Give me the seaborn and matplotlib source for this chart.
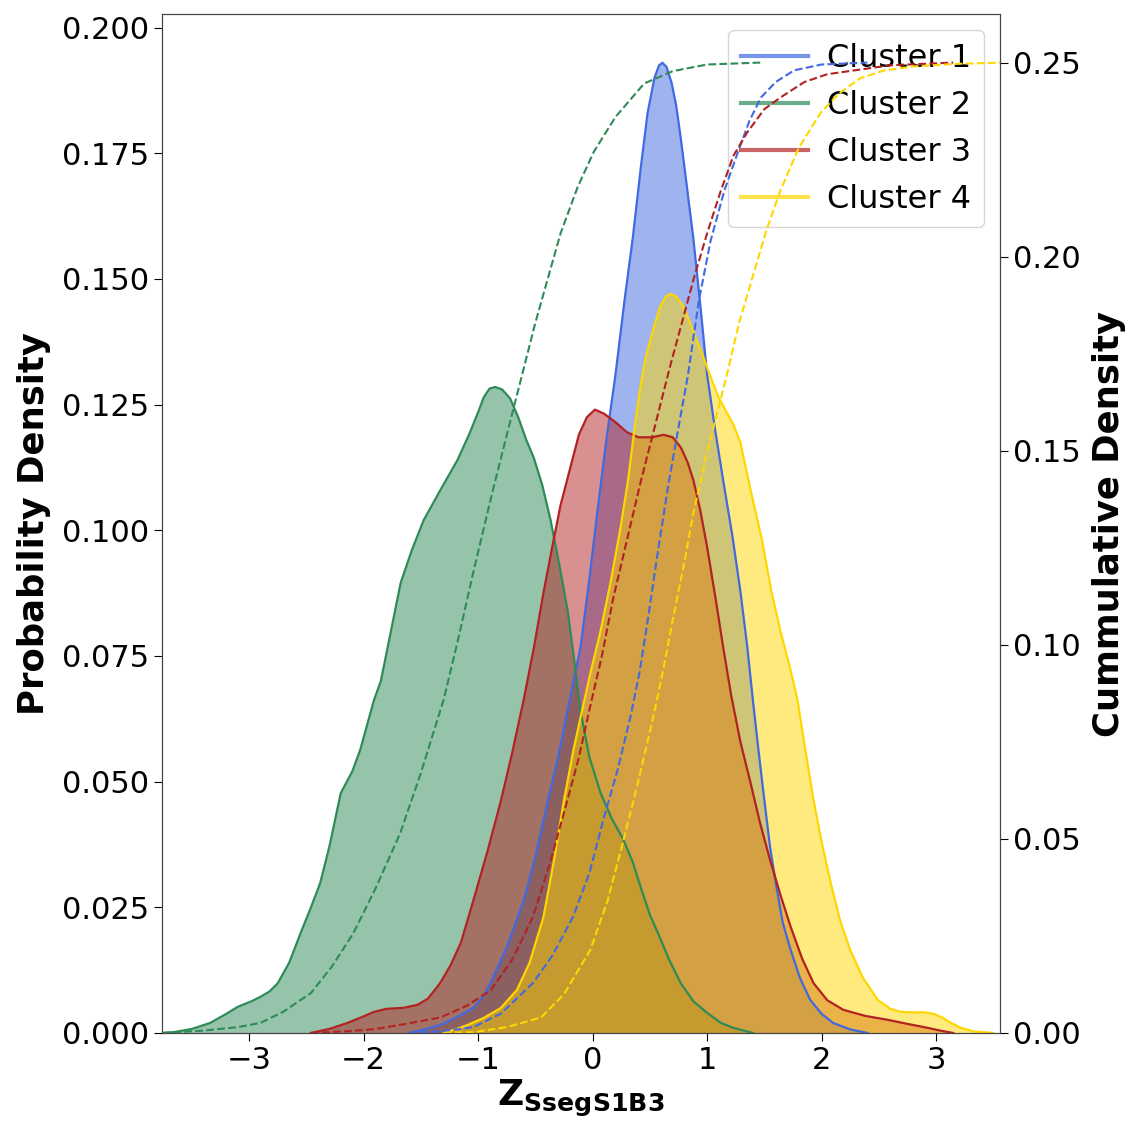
import matplotlib
matplotlib.use("Agg")
import matplotlib.pyplot as plt
from matplotlib.lines import Line2D
from matplotlib.ticker import FormatStrFormatter
import seaborn as sns

# ---- density curves (x, probability density) ----
c1_x = [-1.60, -1.45, -1.33, -1.20, -1.04, -0.95, -0.89, -0.75, -0.60, -0.50, -0.39, -0.30,
        -0.22, -0.105, -0.03, 0.04, 0.12, 0.20, 0.28, 0.35, 0.42, 0.48, 0.54, 0.58, 0.61,
        0.645, 0.69, 0.73, 0.77, 0.82, 0.88, 0.94, 1.00, 1.07, 1.14, 1.22, 1.29, 1.35, 1.40,
        1.45, 1.50, 1.55, 1.60, 1.66, 1.73, 1.81, 1.90, 2.00, 2.10, 2.25, 2.40]
c1_y = [0.0, 0.0008, 0.0016, 0.003, 0.005, 0.0075, 0.010, 0.017, 0.0265, 0.035, 0.0463, 0.055,
        0.064, 0.0768, 0.090, 0.1034, 0.118, 0.131, 0.146, 0.158, 0.172, 0.183, 0.190, 0.1925,
        0.193, 0.1922, 0.189, 0.1845, 0.178, 0.169, 0.158, 0.145, 0.131, 0.120, 0.110, 0.099,
        0.088, 0.077, 0.0662, 0.056, 0.0463, 0.037, 0.0298, 0.022, 0.0165, 0.011, 0.0066,
        0.0038, 0.002, 0.0007, 0.0]

c2_x = [-3.76, -3.65, -3.50, -3.34, -3.20, -3.10, -2.98, -2.90, -2.82, -2.75, -2.65, -2.55,
        -2.46, -2.38, -2.30, -2.20, -2.10, -2.03, -1.91, -1.85, -1.77, -1.677, -1.58, -1.476,
        -1.33, -1.18, -1.08, -1.00, -0.95, -0.90, -0.85, -0.79, -0.72, -0.65, -0.58, -0.515,
        -0.44, -0.367, -0.29, -0.218, -0.16, -0.105, -0.03, 0.07, 0.17, 0.27, 0.35, 0.42, 0.50,
        0.57, 0.67, 0.77, 0.88, 1.00, 1.12, 1.23, 1.40]
c2_y = [0.0, 0.0002, 0.0008, 0.002, 0.0038, 0.0052, 0.0063, 0.0072, 0.0083, 0.0099, 0.014,
        0.0199, 0.025, 0.0298, 0.037, 0.0477, 0.052, 0.0563, 0.0662, 0.0700, 0.079, 0.0895,
        0.096, 0.102, 0.108, 0.114, 0.119, 0.1235, 0.1265, 0.1282, 0.1285, 0.128, 0.1262,
        0.1225, 0.118, 0.1145, 0.109, 0.102, 0.093, 0.084, 0.074, 0.064, 0.055, 0.0477,
        0.0425, 0.0384, 0.034, 0.029, 0.0235, 0.0199, 0.0145, 0.0099, 0.0063, 0.004, 0.002,
        0.001, 0.0]

c3_x = [-2.46, -2.30, -2.14, -2.00, -1.91, -1.80, -1.65, -1.53, -1.44, -1.38, -1.33, -1.24,
        -1.15, -1.04, -0.92, -0.80, -0.70, -0.60, -0.51, -0.43, -0.35, -0.28, -0.20, -0.12,
        -0.05, 0.02, 0.10, 0.20, 0.30, 0.40, 0.52, 0.62, 0.70, 0.77, 0.83, 0.88, 0.94, 1.00,
        1.07, 1.14, 1.21, 1.29, 1.38, 1.46, 1.55, 1.64, 1.73, 1.83, 1.93, 2.05, 2.19, 2.38,
        2.58, 2.75, 2.93, 3.05, 3.15]
c3_y = [0.0, 0.0008, 0.002, 0.0033, 0.0042, 0.0048, 0.0050, 0.0056, 0.0068, 0.0085, 0.010,
        0.0135, 0.018, 0.0265, 0.036, 0.0463, 0.056, 0.0665, 0.077, 0.0875, 0.097, 0.105,
        0.112, 0.119, 0.1225, 0.124, 0.1232, 0.1215, 0.1195, 0.1185, 0.1185, 0.119, 0.1185,
        0.1165, 0.1135, 0.110, 0.104, 0.0967, 0.087, 0.0768, 0.0672, 0.058, 0.0497, 0.042,
        0.0344, 0.0275, 0.0211, 0.0148, 0.0099, 0.0065, 0.0046, 0.0034, 0.0026, 0.0018,
        0.001, 0.0004, 0.0]

c4_x = [-1.30, -1.20, -1.09, -0.95, -0.80, -0.66, -0.55, -0.43, -0.34, -0.25, -0.17, -0.105,
        -0.02, 0.07, 0.16, 0.24, 0.31, 0.37, 0.42, 0.47, 0.53, 0.59, 0.64, 0.68, 0.73, 0.78,
        0.83, 0.88, 0.95, 1.03, 1.10, 1.17, 1.23, 1.29, 1.38, 1.48, 1.56, 1.64, 1.72, 1.79,
        1.86, 1.93, 2.00, 2.08, 2.16, 2.25, 2.36, 2.49, 2.60, 2.69, 2.80, 2.90, 2.98, 3.06,
        3.13, 3.22, 3.33, 3.50]
c4_y = [0.0, 0.0007, 0.0016, 0.003, 0.005, 0.0086, 0.014, 0.023, 0.034, 0.0463, 0.056, 0.0628,
        0.0715, 0.080, 0.090, 0.100, 0.110, 0.121, 0.129, 0.135, 0.140, 0.1445, 0.1465, 0.147,
        0.1465, 0.145, 0.1425, 0.1395, 0.1355, 0.1305, 0.1265, 0.1235, 0.121, 0.1175, 0.108,
        0.098, 0.088, 0.080, 0.073, 0.0662, 0.056, 0.0463, 0.038, 0.0298, 0.0225, 0.0165,
        0.011, 0.0066, 0.0048, 0.0042, 0.0041, 0.0041, 0.0038, 0.003, 0.002, 0.001, 0.0003, 0.0]

# ---- cumulative curves (x, cumulative density) ----
c1_cx = [-1.60, -1.30, -1.04, -0.80, -0.52, -0.35, -0.17, -0.03, 0.10, 0.22, 0.33, 0.41, 0.48,
         0.57, 0.66, 0.75, 0.83, 0.93, 1.03, 1.15, 1.27, 1.37, 1.47, 1.60, 1.76, 2.00, 2.40]
c1_cy = [0.0, 0.0005, 0.0015, 0.005, 0.0129, 0.020, 0.030, 0.041, 0.0556, 0.068, 0.0814, 0.093,
         0.106, 0.124, 0.141, 0.156, 0.169, 0.189, 0.204, 0.217, 0.227, 0.235, 0.241, 0.245,
         0.248, 0.2495, 0.25]

c2_cx = [-3.76, -3.40, -3.10, -2.90, -2.70, -2.46, -2.28, -2.09, -1.90, -1.68, -1.50, -1.30,
         -1.17, -1.04, -0.87, -0.69, -0.50, -0.28, -0.13, 0.01, 0.20, 0.45, 0.70, 1.00, 1.47]
c2_cy = [0.0, 0.0006, 0.0015, 0.0026, 0.0055, 0.0103, 0.017, 0.0257, 0.037, 0.0515, 0.067,
         0.086, 0.102, 0.119, 0.140, 0.161, 0.183, 0.206, 0.218, 0.227, 0.236, 0.2446, 0.2478,
         0.2495, 0.25]

c3_cx = [-2.46, -2.10, -1.90, -1.60, -1.33, -1.10, -0.89, -0.70, -0.52, -0.37, -0.22, -0.12,
         -0.03, 0.08, 0.18, 0.30, 0.42, 0.55, 0.67, 0.78, 0.88, 1.00, 1.12, 1.23, 1.35, 1.50,
         1.64, 1.85, 2.05, 2.60, 3.15]
c3_cy = [0.0, 0.0005, 0.001, 0.0025, 0.004, 0.007, 0.011, 0.019, 0.030, 0.044, 0.060, 0.071,
         0.083, 0.097, 0.112, 0.127, 0.142, 0.157, 0.171, 0.183, 0.194, 0.206, 0.217, 0.226,
         0.232, 0.238, 0.241, 0.245, 0.247, 0.2493, 0.25]

c4_cx = [-1.30, -1.04, -0.75, -0.45, -0.25, -0.02, 0.13, 0.27, 0.40, 0.53, 0.62, 0.71, 0.80,
         0.88, 1.02, 1.16, 1.28, 1.41, 1.52, 1.64, 1.80, 1.99, 2.15, 2.34, 2.55, 2.80, 3.20, 3.60]
c4_cy = [0.0, 0.0002, 0.0015, 0.004, 0.010, 0.0214, 0.034, 0.0497, 0.065, 0.0814, 0.094, 0.108,
         0.121, 0.134, 0.152, 0.168, 0.183, 0.196, 0.207, 0.217, 0.228, 0.237, 0.242, 0.246,
         0.248, 0.249, 0.2497, 0.25]

labels = ["Cluster 1", "Cluster 2", "Cluster 3", "Cluster 4"]
colors = ["royalblue", "seagreen", "firebrick", "gold"]

dens = [(c1_x, c1_y), (c2_x, c2_y), (c3_x, c3_y), (c4_x, c4_y)]
cums = [(c1_cx, c1_cy), (c2_cx, c2_cy), (c3_cx, c3_cy), (c4_cx, c4_cy)]

plt.rcParams["font.family"] = ["DejaVu Sans"]
plt.rcParams["mathtext.fontset"] = "dejavusans"

fig = plt.figure(figsize=(11.34, 11.24), dpi=100)
ax = fig.add_axes([0.143, 0.081, 0.739, 0.9065])

for (xs, ys), col in zip(dens, colors):
    sns.lineplot(x=xs, y=ys, ax=ax, color=col, lw=1.6, sort=False, estimator=None)
    ax.fill_between(xs, ys, 0, color=col, alpha=0.5, lw=0)

ax.set_xlim(-3.76, 3.56)
ax.set_ylim(0, 0.2027)
ax.set_yticks([0, 0.025, 0.05, 0.075, 0.1, 0.125, 0.15, 0.175, 0.2])
ax.yaxis.set_major_formatter(FormatStrFormatter("%.3f"))
ax.set_xticks([-3, -2, -1, 0, 1, 2, 3])
ax.tick_params(labelsize=22, length=6)
ax.set_ylabel("Probability Density", fontsize=25.5, fontweight="bold", labelpad=8)
ax.set_xlabel(r"$\mathbf{Z_{SsegS1B3}}$", fontsize=26, labelpad=2)

handles = [Line2D([0], [0], color=c, lw=3, alpha=0.7) for c in colors]
ax.legend(handles, labels, loc="upper right", fontsize=23, framealpha=0.8,
          handlelength=2.1, handletextpad=0.6, labelspacing=0.5, borderaxespad=0.5)

ax2 = ax.twinx()
for (xs, ys), col in zip(cums, colors):
    sns.lineplot(x=xs, y=ys, ax=ax2, color=col, lw=1.5, linestyle="--", sort=False, estimator=None)
ax2.set_ylim(0, 0.2625)
ax2.set_yticks([0, 0.05, 0.1, 0.15, 0.2, 0.25])
ax2.yaxis.set_major_formatter(FormatStrFormatter("%.2f"))
ax2.tick_params(labelsize=22, length=6)
ax2.set_ylabel("Cummulative Density", fontsize=25.5, fontweight="bold", labelpad=8)

for a in (ax, ax2):
    for s in a.spines.values():
        s.set_color("#444444")

fig.savefig("out.png", dpi=100)
